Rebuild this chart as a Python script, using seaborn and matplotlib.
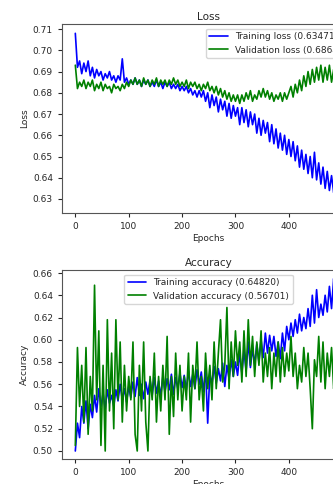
import numpy as np
import seaborn as sns
import matplotlib
matplotlib.use("Agg")
import matplotlib.pyplot as plt

# epochs are logged every 4 steps in this reconstruction
epochs = np.arange(0, 500, 4)

train_loss = [
    0.708, 0.692, 0.695, 0.689, 0.694, 0.690, 0.695, 0.688, 0.692, 0.687,
    0.691, 0.688, 0.690, 0.686, 0.689, 0.687, 0.690, 0.686, 0.688, 0.685,
    0.688, 0.686, 0.696, 0.685, 0.687, 0.684, 0.686, 0.684, 0.687, 0.684,
    0.686, 0.683, 0.686, 0.684, 0.686, 0.683, 0.685, 0.683, 0.686, 0.683,
    0.685, 0.682, 0.685, 0.683, 0.685, 0.682, 0.684, 0.682, 0.684, 0.681,
    0.683, 0.681, 0.683, 0.680, 0.682, 0.679, 0.681, 0.678, 0.681, 0.678,
    0.681, 0.676, 0.680, 0.673, 0.679, 0.674, 0.678, 0.671, 0.677, 0.672,
    0.676, 0.669, 0.675, 0.668, 0.674, 0.669, 0.673, 0.665, 0.673, 0.666,
    0.672, 0.664, 0.671, 0.665, 0.670, 0.661, 0.668, 0.660, 0.667, 0.661,
    0.666, 0.657, 0.665, 0.656, 0.663, 0.654, 0.661, 0.653, 0.660, 0.651,
    0.658, 0.650, 0.657, 0.648, 0.655, 0.645, 0.653, 0.644, 0.651, 0.642,
    0.650, 0.640, 0.652, 0.639, 0.647, 0.637, 0.645, 0.635, 0.643, 0.634,
    0.641, 0.633, 0.640, 0.634, 0.63471,
]

val_loss = [
    0.693, 0.682, 0.685, 0.683, 0.686, 0.682, 0.685, 0.683, 0.686, 0.681,
    0.684, 0.682, 0.685, 0.681, 0.684, 0.682, 0.683, 0.680, 0.684, 0.682,
    0.683, 0.681, 0.684, 0.682, 0.685, 0.683, 0.686, 0.684, 0.687, 0.684,
    0.686, 0.683, 0.687, 0.684, 0.686, 0.683, 0.686, 0.684, 0.687, 0.683,
    0.686, 0.684, 0.686, 0.683, 0.686, 0.684, 0.687, 0.684, 0.686, 0.683,
    0.685, 0.683, 0.686, 0.682, 0.685, 0.683, 0.685, 0.682, 0.684, 0.681,
    0.684, 0.682, 0.685, 0.681, 0.683, 0.680, 0.683, 0.679, 0.682, 0.678,
    0.681, 0.677, 0.680, 0.676, 0.679, 0.676, 0.679, 0.675, 0.679, 0.676,
    0.680, 0.677, 0.681, 0.676, 0.679, 0.677, 0.681, 0.678, 0.682, 0.678,
    0.681, 0.677, 0.680, 0.676, 0.679, 0.677, 0.680, 0.676, 0.680, 0.677,
    0.680, 0.683, 0.678, 0.684, 0.680, 0.686, 0.681, 0.688, 0.683, 0.690,
    0.684, 0.691, 0.685, 0.692, 0.686, 0.693, 0.685, 0.692, 0.686, 0.693,
    0.685, 0.691, 0.686, 0.690, 0.68642,
]

train_acc = [
    0.500, 0.525, 0.512, 0.540, 0.525, 0.545, 0.520, 0.542, 0.530, 0.550,
    0.535, 0.556, 0.540, 0.552, 0.538, 0.555, 0.543, 0.550, 0.540, 0.555,
    0.545, 0.560, 0.546, 0.556, 0.544, 0.558, 0.548, 0.562, 0.549, 0.566,
    0.550, 0.560, 0.547, 0.562, 0.551, 0.564, 0.550, 0.566, 0.552, 0.563,
    0.549, 0.567, 0.553, 0.565, 0.555, 0.569, 0.551, 0.566, 0.556, 0.570,
    0.557, 0.568, 0.555, 0.572, 0.558, 0.569, 0.556, 0.573, 0.560, 0.571,
    0.553, 0.574, 0.525, 0.570, 0.560, 0.576, 0.561, 0.574, 0.563, 0.579,
    0.558, 0.577, 0.565, 0.582, 0.567, 0.580, 0.568, 0.588, 0.570, 0.590,
    0.572, 0.598, 0.575, 0.592, 0.578, 0.596, 0.580, 0.600, 0.584, 0.606,
    0.588, 0.604, 0.590, 0.603, 0.585, 0.598, 0.583, 0.606, 0.590, 0.612,
    0.600, 0.615, 0.603, 0.618, 0.606, 0.623, 0.608, 0.620, 0.610, 0.628,
    0.612, 0.640, 0.615, 0.645, 0.620, 0.632, 0.622, 0.640, 0.625, 0.648,
    0.628, 0.655, 0.630, 0.645, 0.64820,
]

val_acc = [
    0.505, 0.593, 0.540, 0.577, 0.526, 0.593, 0.515, 0.567, 0.536, 0.649,
    0.546, 0.608, 0.505, 0.577, 0.500, 0.618, 0.536, 0.588, 0.520, 0.618,
    0.546, 0.598, 0.526, 0.577, 0.536, 0.567, 0.546, 0.598, 0.515, 0.500,
    0.577, 0.536, 0.598, 0.526, 0.500, 0.567, 0.546, 0.588, 0.526, 0.567,
    0.536, 0.577, 0.546, 0.603, 0.515, 0.567, 0.531, 0.588, 0.546, 0.577,
    0.536, 0.567, 0.546, 0.588, 0.526, 0.577, 0.556, 0.598, 0.546, 0.567,
    0.536, 0.588, 0.556, 0.577, 0.546, 0.598, 0.556, 0.588, 0.618, 0.562,
    0.577, 0.629, 0.556, 0.598, 0.567, 0.608, 0.577, 0.598, 0.562, 0.608,
    0.567, 0.618, 0.577, 0.603, 0.567, 0.598, 0.577, 0.608, 0.562, 0.588,
    0.567, 0.593, 0.556, 0.588, 0.567, 0.598, 0.562, 0.593, 0.567, 0.588,
    0.572, 0.603, 0.567, 0.588, 0.556, 0.577, 0.562, 0.593, 0.567, 0.588,
    0.556, 0.520, 0.582, 0.567, 0.603, 0.562, 0.598, 0.556, 0.588, 0.567,
    0.593, 0.556, 0.577, 0.562, 0.56701,
]

sns.set_style("ticks")
plt.rcParams["font.family"] = ["DejaVu Sans"]

W, H = 333, 484
fig = plt.figure(figsize=(W / 100, H / 100), dpi=100)

# axes run past the right edge of the picture, as in the reference
ax1 = fig.add_axes([62 / W, (H - 213) / H, 293 / W, 189 / H])
ax2 = fig.add_axes([62 / W, (H - 459) / H, 293 / W, 189 / H])

sns.lineplot(x=epochs, y=train_loss, ax=ax1, color="b", linewidth=1.2,
             label="Training loss (%.5f)" % train_loss[-1])
sns.lineplot(x=epochs, y=val_loss, ax=ax1, color="g", linewidth=1.2,
             label="Validation loss (%.5f)" % val_loss[-1])
ax1.set_ylim(0.6234, 0.7124)
ax1.set_yticks(np.arange(0.63, 0.7101, 0.01))
ax1.set_title("Loss", fontsize=7.5, pad=3)
ax1.set_ylabel("Loss", fontsize=6.5, labelpad=3)
ax1.legend(loc="upper right", fontsize=6.5)

sns.lineplot(x=epochs, y=train_acc, ax=ax2, color="b", linewidth=1.2,
             label="Training accuracy (%.5f)" % train_acc[-1])
sns.lineplot(x=epochs, y=val_acc, ax=ax2, color="g", linewidth=1.2,
             label="Validation accuracy (%.5f)" % val_acc[-1])
ax2.set_ylim(0.4928, 0.6627)
ax2.set_yticks(np.arange(0.50, 0.6601, 0.02))
ax2.set_title("Accuracy", fontsize=7.5, pad=3)
ax2.set_ylabel("Accuracy", fontsize=6.5, labelpad=3)
ax2.legend(loc="upper center", fontsize=6.5)

for ax in (ax1, ax2):
    ax.set_xlim(-24.95, 523.95)
    ax.set_xticks([0, 100, 200, 300, 400, 500])
    ax.set_xlabel("Epochs", fontsize=6.5, labelpad=2)
    ax.tick_params(labelsize=6.5, length=3, width=0.8)
    for s in ax.spines.values():
        s.set_visible(True)
        s.set_color("#555555")

fig.savefig("out.png", dpi=100)
